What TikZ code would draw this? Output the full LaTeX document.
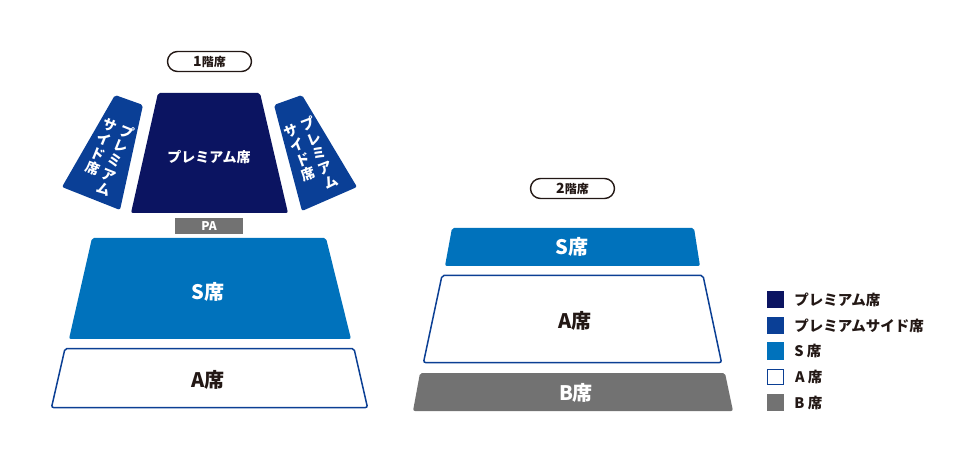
\documentclass[tikz,border=0pt]{standalone}
\usepackage{fontspec}
\setmainfont{Noto Sans CJK JP}
\usepackage{xcolor}
\usepackage{tikz}
\usetikzlibrary{calc}
\definecolor{premium}{HTML}{0B1461}
\definecolor{side}{HTML}{0A3F96}
\definecolor{sseat}{HTML}{0072BC}
\definecolor{aline}{HTML}{0B3F94}
\definecolor{bseat}{HTML}{727272}
\definecolor{ink}{HTML}{231815}
\newcommand\tate[1]{\parbox[t]{18pt}{\centering #1}}
\tikzset{
  block/.style={rounded corners=2pt},
  ablock/.style={draw=aline, fill=white, line width=1.5pt, rounded corners=2pt},
  pill/.style={draw=ink, line width=1.4pt, rounded corners=10pt, minimum width=84pt,
    minimum height=20pt, inner sep=0pt, text=ink, font=\fontsize{12}{12}\selectfont\bfseries},
  big/.style={inner sep=0pt, font=\fontsize{20}{20}\selectfont\bfseries},
  mid/.style={inner sep=0pt, text=white, font=\fontsize{14}{14}\selectfont\bfseries},
  vert/.style={inner sep=0pt, anchor=north, text=white, font=\fontsize{14}{15.5}\selectfont\bfseries},
  key/.style={minimum size=17pt, inner sep=0pt},
  keylab/.style={anchor=west, inner sep=0pt, text=ink, font=\fontsize{14.5}{14.5}\selectfont\bfseries}
}
\begin{document}
\begin{tikzpicture}[x=1pt,y=-1pt]
  % 1 unit = 1 px of the plan, y runs down
  \useasboundingbox (0,0) rectangle (980,462);

  % 1st floor
  \node[pill] (floor1) at (209.5,61.5) {{\fontsize{14}{14}\selectfont 1}階席};

  \fill[side, block] (115,95) -- (143,105) -- (120,210) -- (62,187) -- cycle;
  \fill[premium, block] (158,93) -- (260,93) -- (288,213) -- (131,213) -- cycle;
  \fill[side, block] (274,105) -- (302,95) -- (357,187) -- (302,211) -- cycle;
  \node[vert, rotate=-22] (sideL) at (121,122) {\tate{サ\\イ\\ド\\席}\tate{プ\\レ\\ミ\\ア\\ム}};
  \node[vert, rotate=21] (sideR) at (297.5,121) {\tate{サ\\イ\\ド\\席}\tate{プ\\レ\\ミ\\ア\\ム}};
  \node[mid] (prem) at (209,157) {プレミアム席};

  \fill[bseat] (175,218) rectangle (243,234);
  \node[mid, font=\fontsize{12}{12}\selectfont\bfseries] (pa) at (209,226) {PA};

  \fill[sseat, block] (92,238) -- (326,238) -- (351,339) -- (69,339) -- cycle;
  \node[big, text=white] (s1) at (208,292) {S席};
  \draw[ablock] (65,348.5) -- (354,348.5) -- (367.5,407.5) -- (51.5,407.5) -- cycle;
  \node[big, text=ink] (a1) at (208,380) {A席};

  % 2nd floor
  \node[pill] (floor2) at (572.5,188.5) {{\fontsize{14}{14}\selectfont 2}階席};

  \fill[sseat, block] (452,228) -- (694,228) -- (700,266) -- (445,266) -- cycle;
  \node[big, text=white] (s2) at (572,247) {S席};
  \draw[ablock] (442,275.5) -- (703,275.5) -- (721.5,362.5) -- (423.5,362.5) -- cycle;
  \node[big, text=ink] (a2) at (575,321) {A席};
  \fill[bseat, block] (420,373) -- (725,373) -- (733,411) -- (413,411) -- cycle;
  \node[big, text=white] (b2) at (576,393) {B席};

  % legend
  \node[key, fill=premium] (k1) at (775.5,300) {};
  \node[keylab] at ($(k1.east)+(10,0)$) {プレミアム席};
  \node[key, fill=side] (k2) at (775.5,325.5) {};
  \node[keylab] at ($(k2.east)+(10,0)$) {プレミアムサイド席};
  \node[key, fill=sseat] (k3) at (775.5,351) {};
  \node[keylab] at ($(k3.east)+(10,0)$) {S 席};
  \node[key, draw=aline, line width=1.3pt, fill=white, minimum size=15.5pt] (k4) at (775.5,377) {};
  \node[keylab] at ($(k4.east)+(11,0)$) {A 席};
  \node[key, fill=bseat] (k5) at (775.5,402.5) {};
  \node[keylab] at ($(k5.east)+(10,0)$) {B 席};
\end{tikzpicture}
\end{document}
